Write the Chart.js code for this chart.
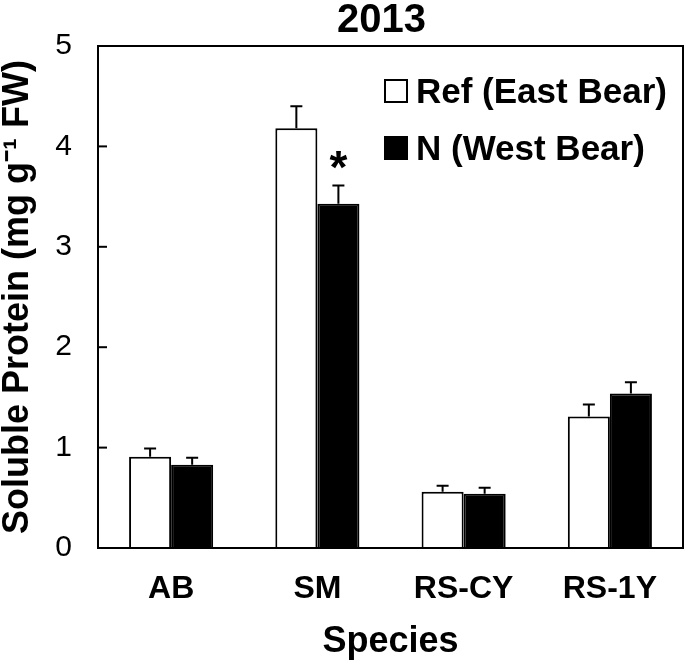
<!DOCTYPE html>
<html>
<head>
<meta charset="utf-8">
<script src="https://cdn.jsdelivr.net/npm/chart.js@4"></script>
<style>
  html, body { margin: 0; padding: 0; background: #fff; }
  #chart-protein { display: block; }
</style>
</head>
<body>
<canvas id="chart-protein" width="685" height="664"></canvas>
<script>
/* Data */
const chartTitle = '2013';
const categories = ['AB', 'SM', 'RS-CY', 'RS-1Y'];
const seriesLabels = ['Ref (East Bear)', 'N (West Bear)'];
const refValues = [0.91, 4.18, 0.56, 1.31];
const refErrors = [0.08, 0.22, 0.06, 0.12];
const nValues = [0.83, 3.43, 0.54, 1.54];
const nErrors = [0.07, 0.18, 0.06, 0.11];
const nSignificant = [false, true, false, false];
const yTicks = [0, 1, 2, 3, 4, 5];

const FONT = '"Liberation Sans", Arial, Helvetica, sans-serif';
const errors = [refErrors, nErrors];

// Frame round the plot, inward y ticks, title above
const framePlugin = {
    id: 'frame',
    afterDraw(chart) {
        const { ctx, chartArea: a, scales } = chart;
        ctx.save();
        ctx.strokeStyle = '#000';
        ctx.lineWidth = 2;
        ctx.strokeRect(a.left, a.top, a.right - a.left, a.bottom - a.top);
        yTicks.forEach(function (t) {
            const py = scales.y.getPixelForValue(t);
            ctx.beginPath();
            ctx.moveTo(a.left, py);
            ctx.lineTo(a.left + 9, py);
            ctx.stroke();
        });
        ctx.fillStyle = '#000';
        ctx.font = 'bold 40px ' + FONT;
        ctx.textAlign = 'center';
        ctx.textBaseline = 'alphabetic';
        ctx.fillText(chartTitle, (a.left + a.right) / 2 - 9, 32);
        ctx.restore();
    }
};

// Upper error bars + significance star
const errorPlugin = {
    id: 'errorBars',
    afterDatasetsDraw(chart) {
        const { ctx, scales } = chart;
        ctx.save();
        ctx.strokeStyle = '#000';
        ctx.lineWidth = 2;
        chart.data.datasets.forEach(function (ds, i) {
            const meta = chart.getDatasetMeta(i);
            meta.data.forEach(function (bar, j) {
                const top = scales.y.getPixelForValue(ds.data[j] + errors[i][j]);
                ctx.beginPath();
                ctx.moveTo(bar.x, bar.y);
                ctx.lineTo(bar.x, top);
                ctx.moveTo(bar.x - 6, top);
                ctx.lineTo(bar.x + 6, top);
                ctx.stroke();
                if (i === 1 && nSignificant[j]) {
                    ctx.fillStyle = '#000';
                    ctx.font = 'bold 46px ' + FONT;
                    ctx.textAlign = 'center';
                    ctx.textBaseline = 'middle';
                    ctx.fillText('*', bar.x, top - 15);
                }
            });
        });
        ctx.restore();
    }
};

// Legend drawn inside the plot, top right
const legendPlugin = {
    id: 'innerLegend',
    afterDraw(chart) {
        const { ctx, chartArea: a } = chart;
        const x0 = a.left + 287;
        const y0 = a.top + 34;
        ctx.save();
        ctx.font = 'bold 35px ' + FONT;
        ctx.textAlign = 'left';
        ctx.textBaseline = 'alphabetic';
        chart.data.datasets.forEach(function (ds, i) {
            const y = y0 + i * 57;
            ctx.fillStyle = ds.backgroundColor;
            ctx.fillRect(x0, y, 22, 22);
            ctx.strokeStyle = '#000';
            ctx.lineWidth = 2;
            ctx.strokeRect(x0, y, 22, 22);
            ctx.fillStyle = '#000';
            ctx.fillText(ds.label, x0 + 31, y + 23);
        });
        ctx.restore();
    }
};

new Chart(document.getElementById('chart-protein'), {
    type: 'bar',
    data: {
        labels: categories,
        datasets: [
            {
                label: seriesLabels[0],
                data: refValues,
                backgroundColor: '#ffffff',
                borderColor: '#000000',
                borderWidth: 2,
                categoryPercentage: 0.575,
                barPercentage: 1.0
            },
            {
                label: seriesLabels[1],
                data: nValues,
                backgroundColor: '#000000',
                borderColor: '#000000',
                borderWidth: 2,
                categoryPercentage: 0.575,
                barPercentage: 1.0
            }
        ]
    },
    options: {
        responsive: false,
        animation: false,
        layout: { padding: { top: 46, right: 2, bottom: 0, left: 0 } },
        plugins: {
            legend: { display: false },
            tooltip: { enabled: false },
            title: { display: false }
        },
        scales: {
            x: {
                grid: { display: false, drawTicks: false },
                border: { display: false },
                ticks: {
                    color: '#000',
                    padding: 22,
                    font: { family: FONT, size: 32, weight: 'bold' }
                },
                title: {
                    display: true,
                    text: 'Species',
                    color: '#000',
                    font: { family: FONT, size: 36, weight: 'bold', lineHeight: 1 },
                    padding: { top: 0, bottom: 4 }
                },
                afterFit(scale) { scale.height = 116; }
            },
            y: {
                min: 0,
                max: 5,
                grid: { display: false, drawTicks: false },
                border: { display: false },
                afterBuildTicks(scale) {
                    scale.ticks = yTicks.map(function (v) { return { value: v }; });
                },
                ticks: {
                    color: '#000',
                    padding: 26,
                    font: { family: FONT, size: 30 }
                },
                title: {
                    display: true,
                    text: 'Soluble Protein (mg g\u207B\u00B9 FW)',
                    color: '#000',
                    font: { family: FONT, size: 36, weight: 'bold', lineHeight: 1 },
                    padding: { top: 0, bottom: 0 }
                },
                afterFit(scale) { scale.width = 98; }
            }
        }
    },
    plugins: [framePlugin, errorPlugin, legendPlugin]
});
</script>
</body>
</html>
